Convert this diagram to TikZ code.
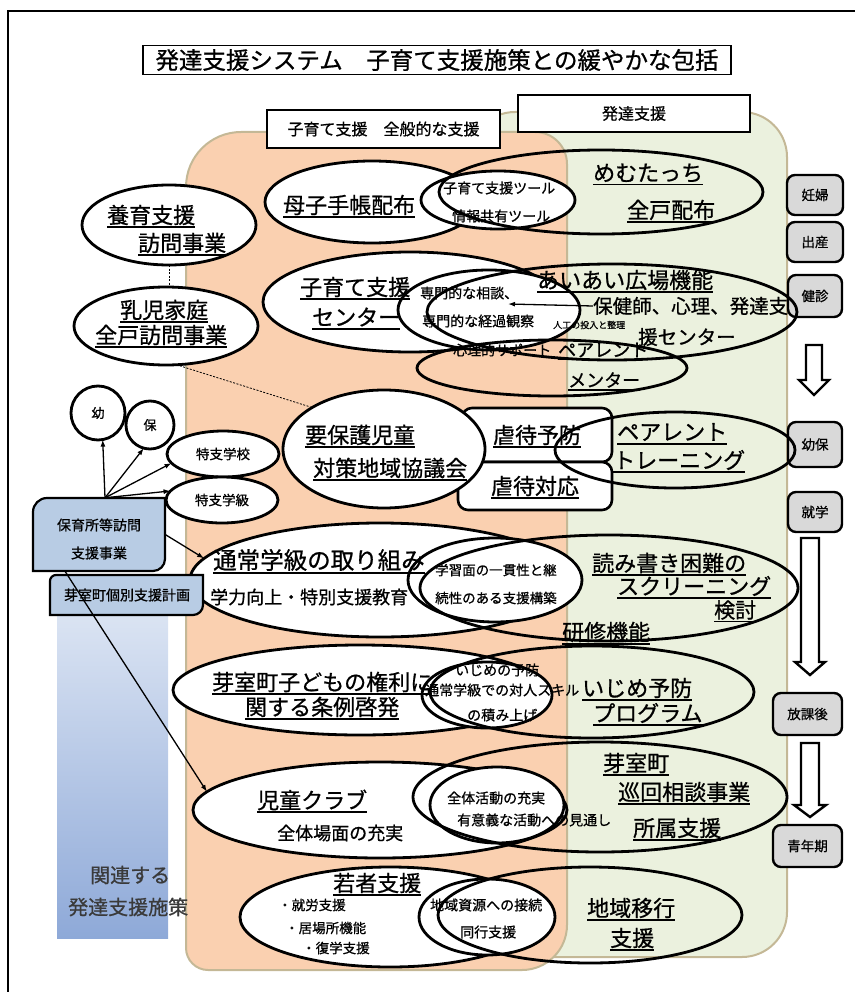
\documentclass[tikz,border=0pt]{standalone}
\usepackage{fontspec}
\setmainfont[FakeBold=0.8]{Noto Sans CJK JP}
\usetikzlibrary{shapes.geometric,arrows.meta}
\definecolor{orfill}{HTML}{FAD0B0}
\definecolor{grfill}{HTML}{EBF1DE}
\definecolor{regionedge}{HTML}{C4B896}
\definecolor{boxblue}{HTML}{B8CCE4}
\definecolor{boxgray}{HTML}{D9D9D9}
\definecolor{bartop}{HTML}{E4EBF6}
\definecolor{barbot}{HTML}{8EA9D8}
\definecolor{dgray}{HTML}{3A3A3A}
\newsavebox\ulbox
\newcommand{\myul}[1]{\sbox\ulbox{#1}\rlap{\smash{\rule[-0.2em]{\wd\ulbox}{0.07em}}}\usebox\ulbox}
\tikzset{
  fs/.style={font=\fontsize{#1pt}{#1pt}\selectfont},
  ell/.style={ellipse, draw, line width=2.8pt, inner sep=0pt, outer sep=0pt},
  wel/.style={ell, fill=white},
  txt/.style={inner sep=0pt, anchor=west},
  arr/.style={line width=1.3pt, -{Latex[length=7pt,width=5pt]}},
  dsh/.style={line width=0.8pt, dash pattern=on 2pt off 1.5pt},
  gbox/.style={draw, line width=2.4pt, fill=boxgray, rounded corners=8pt, inner sep=0pt, fs=13.5},
  lbox/.style={draw, line width=2.6pt, fill=white, inner sep=0pt, fs=16},
  kbox/.style={draw, line width=2.6pt, fill=white, rounded corners=10pt, inner sep=0pt, fs=22},
  blk/.style={draw, line width=2.4pt, fill=white}
}
\begin{document}
\begin{tikzpicture}[x=1pt,y=-1pt]
\useasboundingbox (0,0) rectangle (855,992);
% frame
\draw[line width=2.2pt] (8,992) -- (8,11) -- (855,11);
% regions
\draw[regionedge, fill=grfill, line width=2pt, rounded corners=45pt] (470,112) rectangle (787,957);
\draw[regionedge, fill=orfill, line width=2pt] (186,187) .. controls (186,156.6) and (210.6,132) .. (241,132) -- (535,132) .. controls (552.7,132) and (567,146.3) .. (567,164) -- (567,925) .. controls (567,949.8) and (546.8,970) .. (522,970) -- (208,970) .. controls (195.9,970) and (186,960.1) .. (186,948) -- cycle;
% blue bar
\shade[top color=bartop, bottom color=barbot] (57,575) rectangle (168,938);
% title and labels
\node[draw, line width=1.2pt, fill=white, minimum width=588pt, minimum height=29pt, inner sep=0pt, fs=23.5] (title) at (437,60) {発達支援システム　子育て支援施策との緩やかな包括};
\node[lbox, minimum width=233pt, minimum height=38pt] (lblKo) at (383.5,129) {子育て支援　全般的な支援};
\node[lbox, minimum width=232pt, minimum height=37pt] (lblHa) at (634,113.5) {発達支援};
% stage boxes
\node[gbox, minimum width=56pt, minimum height=40pt] (ninpu) at (815,195) {妊婦};
\node[gbox, minimum width=56pt, minimum height=40pt] (shussan) at (815,242) {出産};
\node[gbox, minimum width=54pt, minimum height=42pt] (kenshin) at (815,296) {健診};
\node[gbox, minimum width=54pt, minimum height=45pt] (youho) at (815,444.5) {幼保};
\node[gbox, minimum width=54pt, minimum height=40pt] (shugaku) at (815,512) {就学};
\node[gbox, minimum width=69pt, minimum height=42pt] (hokago) at (807.5,714) {放課後};
\node[gbox, minimum width=69pt, minimum height=42pt] (seinen) at (807.5,846) {青年期};
% block arrows
\draw[blk] (806,345) -- (822,345) -- (822,380) -- (829,380) -- (814,395) -- (799,380) -- (806,380) -- cycle;
\draw[blk] (801,538) -- (819,538) -- (819,662) -- (825,662) -- (810,675) -- (795,662) -- (801,662) -- cycle;
\draw[blk] (801,743) -- (819,743) -- (819,805) -- (826,805) -- (810,817) -- (794,805) -- (801,805) -- cycle;
% white ellipses
\node[wel, minimum width=174pt, minimum height=80pt] (yoiku) at (169,225) {};
\node[wel, minimum width=184pt, minimum height=78pt] (nyuji) at (166,326) {};
\node[wel, minimum width=214pt, minimum height=82pt] (boshi) at (372,202) {};
\node[wel, minimum width=154pt, minimum height=58pt] (tool) at (498,200) {};
\node[wel, minimum width=294pt, minimum height=100pt] (center) at (410,302) {};
\node[wel, minimum width=182pt, minimum height=80pt] (senmon) at (489,310) {};
\node[kbox, minimum width=150pt, minimum height=54pt] (gyakuA) at (537,435) {\myul{虐待予防}};
\node[kbox, minimum width=154pt, minimum height=48pt] (gyakuB) at (535,486) {\myul{虐待対応}};
\node[wel, minimum width=202pt, minimum height=118pt] (yoho) at (384,449) {};
\node[wel, circle, minimum size=54pt, fs=13] (you) at (98,413) {幼};
\node[wel, circle, minimum size=48pt, fs=13] (ho) at (150,425) {保};
\node[wel, minimum width=112pt, minimum height=46pt, fs=13.5] (tokko) at (223,454) {特支学校};
\node[wel, minimum width=112pt, minimum height=46pt, fs=13.5] (tokkyu) at (222,500) {特支学級};
\node[wel, minimum width=380pt, minimum height=114pt] (tsujo) at (380,580) {};
\node[wel, minimum width=174pt, minimum height=84pt] (gakushu) at (495,580) {};
\node[wel, minimum width=374pt, minimum height=90pt] (kenri) at (360,690) {};
\node[wel, minimum width=130pt, minimum height=66pt] (ijimes) at (487,695) {};
\node[wel, minimum width=374pt, minimum height=96pt] (jido) at (380,810) {};
\node[wel, minimum width=134pt, minimum height=76pt] (zentai) at (497,805) {};
\node[wel, minimum width=300pt, minimum height=100pt] (wakamono) at (390,917) {};
\node[wel, minimum width=136pt, minimum height=76pt] (chiiki) at (487,917) {};
% blue boxes
\draw[fill=boxblue, line width=2.2pt] (47,498) -- (165,498) -- (165,559) .. controls (165,565.6) and (159.6,571) .. (153,571) -- (33,571) -- (33,512) .. controls (33,504.3) and (39.3,498) .. (47,498) -- cycle;
\node[minimum width=132pt, minimum height=73pt, inner sep=0pt] (hoiku) at (99,534.5) {};
\node[inner sep=0pt, fs=14] (hoikuA) at (99,525) {保育所等訪問};
\node[inner sep=0pt, fs=14] (hoikuB) at (99,553) {支援事業};
\draw[fill=boxblue, line width=2.2pt] (56,575) -- (203,575) -- (203,605) .. controls (203,610.5) and (198.5,615) .. (193,615) -- (50,615) -- (50,581) .. controls (50,577.7) and (52.7,575) .. (56,575) -- cycle;
\node[inner sep=0pt, fs=14] (plan) at (127,595) {芽室町個別支援計画};
% open ellipses
\node[ell, minimum width=324pt, minimum height=84pt] (memu) at (601,192) {};
\node[ell, minimum width=370pt, minimum height=96pt] (aiai) at (612,312) {};
\node[ell, minimum width=270pt, minimum height=56pt] (mentor) at (552,368) {};
\node[ell, minimum width=240pt, minimum height=76pt] (training) at (675,450) {};
\node[ell, minimum width=378pt, minimum height=106pt] (yomi) at (609,588) {};
\node[ell, minimum width=324pt, minimum height=92pt] (ijime) at (592,692) {};
\node[ell, minimum width=374pt, minimum height=110pt] (junkai) at (600,797) {};
\node[ell, minimum width=304pt, minimum height=96pt] (ikou) at (590,915) {};
% dashed links
\draw[dsh] (yoiku.south) -- (yoiku.south |- nyuji.north);
\draw[dsh] (nyuji.-75) -- (yoho.150);
% arrows
\coordinate (fan) at ([xshift=6pt]hoiku.north);
\draw[arr] (fan) -- (you.-80);
\draw[arr] (fan) -- (ho.255);
\draw[arr] (fan) -- (tokko.190);
\draw[arr] (fan) -- (tokkyu.170);
\draw[arr] (hoiku.east) -- (tsujo.173);
\draw[arr] ([xshift=-34pt]hoiku.south) -- (jido.174);
% texts
\node[txt, fs=22] (tMemu) at (593,173) {\myul{めむたっち}};
\node[txt, fs=22] (tZenko) at (627,210) {\myul{全戸配布}};
\node[txt, fs=22] (tBoshi) at (283,205) {\myul{母子手帳配布}};
\node[txt, fs=14] (tTool1) at (443,188) {子育て支援ツール};
\node[txt, fs=14] (tTool2) at (452,216) {情報共有ツール};
\node[txt, fs=22] (tYoiku1) at (107,215) {\myul{養育支援}};
\node[txt, fs=22] (tYoiku2) at (138,243) {\myul{訪問事業}};
\node[txt, fs=22] (tNyuji1) at (120,310) {\myul{乳児家庭}};
\node[txt, fs=22] (tNyuji2) at (95,335) {\myul{全戸訪問事業}};
\node[txt, fs=22] (tCen1) at (300,287) {\myul{子育て支援}};
\node[txt, fs=22] (tCen2) at (312,317) {\myul{センター}};
\node[txt, fs=14] (tSen1) at (420,293) {専門的な相談、};
\node[txt, fs=14] (tSen2) at (422,321) {専門的な経過観察};
\node[txt, fs=19.5] (tHoken) at (593,306) {保健師、心理、発達支};
\node[txt, fs=19.5] (tHoken2) at (638,337) {援センター};
\node[txt, fs=9] (tJinko) at (553,325) {人工の投入と整理};
\node[txt, fs=22] (tAiai) at (537,280) {\myul{あいあい広場機能}};
\coordinate (sTip) at (508,304);
\draw[arr] (tHoken.west) -- (sTip);
\node[txt, fs=14] (tShinri) at (453,350) {心理的サポート};
\node[txt, fs=18] (tPare1) at (558,350) {\myul{ペアレント}};
\node[txt, fs=18] (tPare2) at (568,380) {\myul{メンター}};
\node[txt, fs=22] (tYoho1) at (305,435) {\myul{要保護児童}};
\node[txt, fs=22] (tYoho2) at (313,468) {\myul{対策地域協議会}};
\node[txt, fs=22] (tTr1) at (617,432) {\myul{ペアレント}};
\node[txt, fs=22] (tTr2) at (613,460) {\myul{トレーニング}};
\node[txt, fs=23.5] (tTsujo1) at (213,560) {\myul{通常学級の取り組み}};
\node[txt, fs=18] (tTsujo2) at (210,597) {学力向上・特別支援教育};
\node[txt, fs=13.5] (tGaku1) at (435,570) {学習面の一貫性と継};
\node[txt, fs=13.5] (tGaku2) at (435,598) {続性のある支援構築};
\node[txt, fs=22] (tYomi1) at (592,563) {\myul{読み書き困難の}};
\node[txt, fs=22] (tYomi2) at (617,586) {\myul{スクリーニング}};
\node[txt, fs=21] (tYomi3) at (714,610) {\myul{検討}};
\node[txt, fs=22] (tKenshu) at (562,632) {\myul{研修機能}};
\node[txt, fs=22] (tKenri1) at (212,682) {\myul{芽室町子どもの権利に}};
\node[txt, fs=22] (tKenri2) at (245,707) {\myul{関する条例啓発}};
\node[txt, fs=14] (tIjs1) at (455,670) {いじめの予防};
\node[txt, fs=14] (tIjs2) at (425,690) {通常学級での対人スキル};
\node[txt, fs=14] (tIjs3) at (467,715) {の積み上げ};
\node[txt, fs=22] (tIj1) at (582,688) {\myul{いじめ予防}};
\node[txt, fs=22] (tIj2) at (593,713) {\myul{プログラム}};
\node[txt, fs=22] (tJido1) at (257,800) {\myul{児童クラブ}};
\node[txt, fs=18] (tJido2) at (277,833) {全体場面の充実};
\node[txt, fs=14] (tZen1) at (447,798) {全体活動の充実};
\node[txt, fs=14] (tZen2) at (457,820) {有意義な活動への見通し};
\node[txt, fs=22] (tJun1) at (603,763) {\myul{芽室町}};
\node[txt, fs=22] (tJun2) at (618,792) {\myul{巡回相談事業}};
\node[txt, fs=22] (tJun3) at (633,828) {\myul{所属支援}};
\node[txt, fs=22] (tWaka) at (333,883) {\myul{若者支援}};
\node[txt, fs=13.5] (tW1) at (278,905) {・就労支援};
\node[txt, fs=13.5] (tW2) at (285,928) {・居場所機能};
\node[txt, fs=13.5] (tW3) at (302,948) {・復学支援};
\node[txt, fs=14] (tChi1) at (430,905) {地域資源への接続};
\node[txt, fs=14] (tChi2) at (460,932) {同行支援};
\node[txt, fs=22] (tIko1) at (587,908) {\myul{地域移行}};
\node[txt, fs=22] (tIko2) at (610,938) {\myul{支援}};
\node[txt, fs=20, text=dgray] (tKan1) at (90,875) {関連する};
\node[txt, fs=20, text=dgray] (tKan2) at (68,907) {発達支援施策};
\end{tikzpicture}
\end{document}
